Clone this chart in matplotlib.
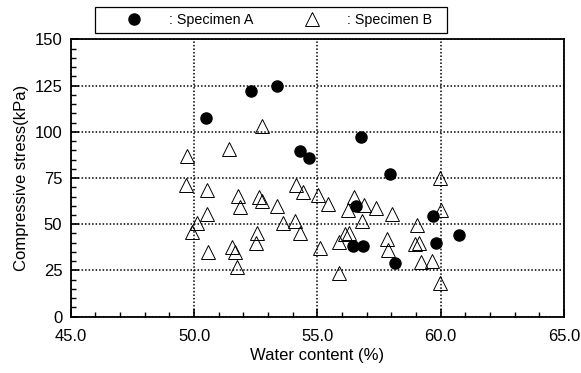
import matplotlib.pyplot as plt
from matplotlib.patches import Rectangle
from matplotlib.ticker import MultipleLocator, FormatStrFormatter

plt.rcParams["font.family"] = ["Liberation Sans", "DejaVu Sans"]

# Specimen A (filled circles)
a_water = [50.5, 52.3, 53.35, 54.3, 54.65, 56.75, 57.95, 56.55, 59.7, 60.75,
           59.8, 56.45, 56.85, 58.15]
a_stress = [107.5, 122, 125, 89.5, 86, 97, 77, 60, 54.5, 44,
            40, 38, 38.5, 29]

# Specimen B (open triangles)
b_water = [49.7, 49.67, 52.74, 51.43, 50.51, 51.79, 51.86, 52.62, 52.75, 53.35,
           50.51, 50.13, 49.93, 53.62, 54.09, 54.3, 52.56, 52.51, 50.58, 51.53,
           51.66, 51.75, 54.12, 54.43, 55.04, 55.44, 56.48, 56.25, 56.89, 57.38,
           56.8, 58.01, 59.03, 59.97, 60.0, 55.11, 55.89, 56.12, 56.3, 55.89,
           57.84, 57.88, 58.96, 59.13, 59.22, 59.63, 59.97]
b_stress = [86.9, 71.2, 103.1, 90.5, 68.5, 65.3, 59.2, 64.6, 62.7, 59.9,
            55.5, 50.5, 46.0, 50.5, 51.8, 45.1, 45.4, 40.0, 35.2, 37.5,
            35.2, 27.0, 71.2, 67.6, 65.8, 61.0, 64.9, 57.7, 60.4, 59.0,
            51.9, 55.5, 49.6, 74.8, 57.7, 37.0, 23.5, 44.7, 45.1, 40.6,
            41.9, 36.1, 39.3, 40.0, 29.7, 30.3, 18.4]

fig = plt.figure(figsize=(5.81, 3.73), dpi=100)
ax = fig.add_axes([0.1217, 0.1509, 0.849, 0.7437])

ax.grid(True, which="major", color="black", linestyle=(0, (1, 1.3)), linewidth=1.1)
ax.set_axisbelow(True)

l1, = ax.plot(a_water, a_stress, "o", color="black", markersize=8, linestyle="none",
              label=": Specimen A", zorder=3)
l2, = ax.plot(b_water, b_stress, "^", markerfacecolor="none", markeredgecolor="black",
              markeredgewidth=0.7, markersize=10.5, linestyle="none",
              label=": Specimen B", zorder=3)

ax.set_xlim(45, 65)
ax.set_ylim(0, 150)
ax.xaxis.set_major_locator(MultipleLocator(5))
ax.xaxis.set_minor_locator(MultipleLocator(1))
ax.yaxis.set_major_locator(MultipleLocator(25))
ax.yaxis.set_minor_locator(MultipleLocator(5))
ax.xaxis.set_major_formatter(FormatStrFormatter("%.1f"))

ax.tick_params(axis="both", which="major", direction="in", length=6, width=1.2,
               labelsize=12, top=False, right=False)
ax.tick_params(axis="both", which="minor", direction="in", length=3.5, width=1,
               top=False, right=False)
ax.tick_params(axis="x", which="major", pad=9)
ax.tick_params(axis="y", which="major", pad=6)
for s in ax.spines.values():
    s.set_linewidth(1.3)

ax.set_xlabel("Water content (%)", fontsize=12, labelpad=3)
ax.set_ylabel("Compressive stress(kPa)", fontsize=12, labelpad=4)

fig.patches.append(Rectangle((95 / 581, 1 - 32.7 / 373), 352 / 581, 25.4 / 373,
                             transform=fig.transFigure, fill=False,
                             edgecolor="black", linewidth=0.9))
fig.legend(handles=[l1, l2], loc="center left",
           bbox_to_anchor=(100.6 / 581, 1 - 20 / 373), ncol=2, frameon=False,
           fontsize=10.3, borderpad=0, borderaxespad=0, handlelength=4.67,
           handletextpad=0.1, columnspacing=1.8, numpoints=1)

fig.savefig("out.png", dpi=100)
